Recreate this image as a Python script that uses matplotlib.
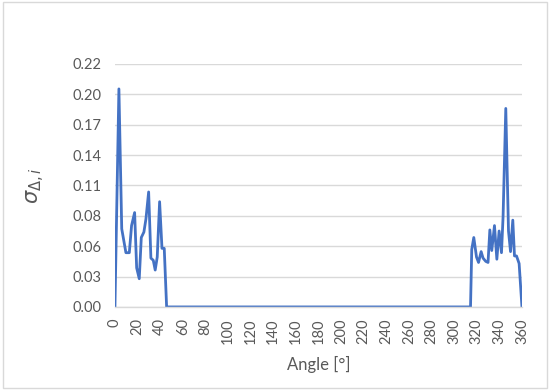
import matplotlib.pyplot as plt
from matplotlib.patches import Rectangle
import numpy as np

angle = [0, 3.5, 6, 9.7, 12.7, 14.7, 17.4, 19.2, 21.5, 23.3, 25.6, 27.4, 29.8,
         31.8, 33.9, 35.6, 37.4, 39.5, 41.6, 43.6, 45.7,
         314.5, 315.6, 317.4, 319.8, 321.6, 323.9, 325.6, 328, 330, 331.6,
         333.3, 335.7, 337.8, 339.8, 341.9, 343.3, 345.7, 348.1, 349.9, 351.9,
         353.4, 355.2, 357.5, 360]
sigma = [0, 0.201, 0.072, 0.05, 0.05, 0.075, 0.087, 0.036, 0.026, 0.064, 0.069,
         0.081, 0.106, 0.045, 0.043, 0.034, 0.046, 0.097, 0.054, 0.054, 0,
         0, 0.053, 0.064, 0.046, 0.041, 0.051, 0.045, 0.042, 0.041, 0.071,
         0.052, 0.075, 0.044, 0.07, 0.05, 0.083, 0.183, 0.07, 0.051, 0.08,
         0.047, 0.047, 0.04, 0]

xticks = list(range(0, 361, 20))
yticks = [i * 0.028 for i in range(9)]
ytick_labels = ['0.00', '0.03', '0.06', '0.08', '0.11', '0.14', '0.17', '0.20', '0.22']

plt.rcParams['font.family'] = ['Lato', 'DejaVu Sans']
grey = '#595959'

fig = plt.figure(figsize=(5.5, 3.9), dpi=100)
ax = fig.add_axes([0.209, 0.213, 0.740, 0.623])

ax.plot(angle, sigma, color='#4472C4', linewidth=2)

ax.set_xlim(0, 360)
ax.set_ylim(0, 0.224)
ax.set_xticks(xticks)
ax.set_xticklabels([str(t) for t in xticks], rotation=90)
ax.set_yticks(yticks)
ax.set_yticklabels(ytick_labels)
ax.tick_params(axis='both', colors=grey, labelsize=10.5, length=0)
ax.tick_params(axis='x', pad=8)
ax.tick_params(axis='y', pad=10)
ax.grid(True, axis='y', color='#d9d9d9', linewidth=1)
ax.set_axisbelow(True)
for s in ['top', 'right', 'left']:
    ax.spines[s].set_visible(False)
ax.spines['bottom'].set_color('#d9d9d9')
ax.spines['bottom'].set_linewidth(1)

ax.set_xlabel('Angle [°]', color=grey, fontsize=12, labelpad=9)
ax.set_ylabel(r'$\sigma_{\Delta,i}$', color=grey, fontsize=15, labelpad=18)

fig.patches.append(Rectangle((0.005, 0.005), 0.99, 0.99, transform=fig.transFigure,
                             fill=False, edgecolor='#d9d9d9', linewidth=1))

fig.savefig('out.png', dpi=100)
